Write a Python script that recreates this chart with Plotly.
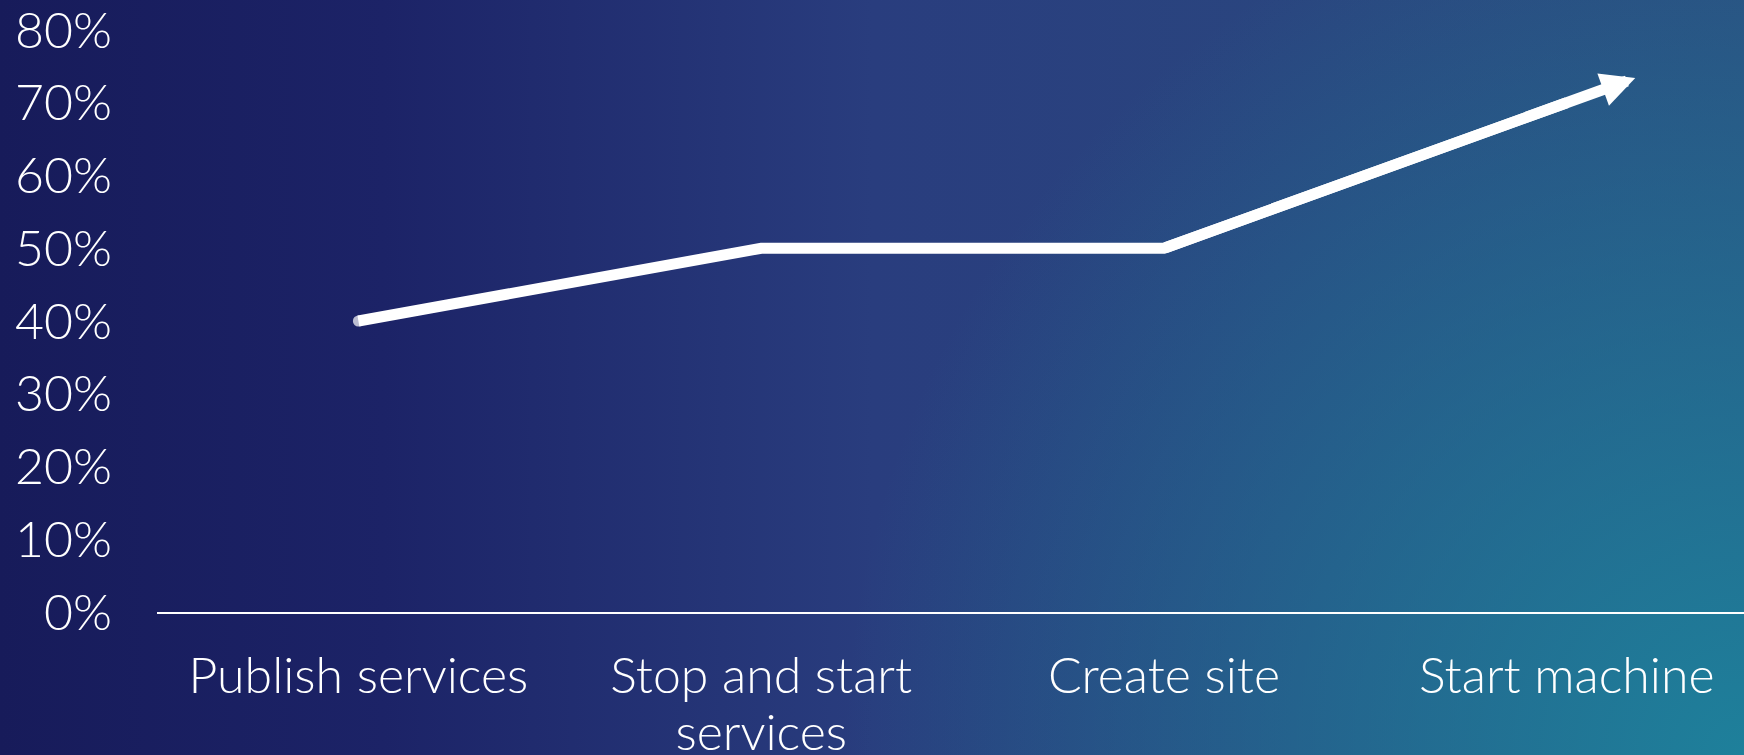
import base64
import plotly.graph_objects as go

# ---- data ----
categories = ["Publish services", "Stop and start<br>services", "Create site", "Start machine"]
values = [0.40, 0.50, 0.50, 0.70]
y_ticks = [0.0, 0.1, 0.2, 0.3, 0.4, 0.5, 0.6, 0.7, 0.8]
arrow_extend = 0.17  # how far (in category units) the arrow head goes beyond the last point

W, H = 1744, 755
ML, MR, MT, MB = 157, 0, 30, 143

FONT = "Lato"
FS = 50
LINE_SPACING_EM = 1.14

# ---- gradient background as an SVG image ----
svg = f"""<svg xmlns='http://www.w3.org/2000/svg' width='{W}' height='{H}' viewBox='0 0 {W} {H}' preserveAspectRatio='none'>
<defs>
<linearGradient id='g' x1='0' y1='0' x2='1' y2='0'>
<stop offset='0' stop-color='#171b5a'/>
<stop offset='0.22' stop-color='#1c2367'/>
<stop offset='0.5' stop-color='#293d7e'/>
<stop offset='1' stop-color='#2b4e80'/>
</linearGradient>
<radialGradient id='r' gradientUnits='userSpaceOnUse' cx='{W}' cy='{H}' r='900'>
<stop offset='0' stop-color='#1e809b' stop-opacity='1'/>
<stop offset='1' stop-color='#1e809b' stop-opacity='0'/>
</radialGradient>
</defs>
<rect width='{W}' height='{H}' fill='url(#g)'/>
<rect width='{W}' height='{H}' fill='url(#r)'/>
</svg>"""
bg_src = "data:image/svg+xml;base64," + base64.b64encode(svg.encode()).decode()

pw = W - ML - MR
ph = H - MT - MB

xs = list(range(len(categories)))

fig = go.Figure()
fig.add_trace(go.Scatter(
    x=xs, y=values, mode="lines+markers",
    line=dict(color="white", width=11),
    marker=dict(size=[11] + [0] * (len(values) - 1), color="white", line=dict(width=0)),
    cliponaxis=False, hoverinfo="skip", showlegend=False,
))

# arrow head continuing the last segment
dx = xs[-1] - xs[-2]
dy = values[-1] - values[-2]
fig.add_annotation(
    x=xs[-1] + arrow_extend * dx, y=values[-1] + arrow_extend * dy,
    ax=xs[-2], ay=values[-2], xref="x", yref="y", axref="x", ayref="y",
    text="", showarrow=True, arrowhead=2, arrowwidth=11, arrowsize=0.62,
    arrowcolor="white",
)

fig.update_layout(
    width=W, height=H,
    margin=dict(l=ML, r=MR, t=MT, b=MB, pad=0, autoexpand=False),
    paper_bgcolor="#1c2367", plot_bgcolor="rgba(0,0,0,0)",
    font=dict(family=FONT, color="white", size=FS, weight=300),
    images=[dict(
        source=bg_src, xref="paper", yref="paper",
        x=-ML / pw, y=1 + MT / ph, sizex=W / pw, sizey=H / ph,
        xanchor="left", yanchor="top", sizing="stretch", layer="below",
    )],
    xaxis=dict(
        range=[-0.5, 3.44], tickmode="array", tickvals=xs, ticktext=categories,
        showgrid=False, zeroline=False, showline=True, linecolor="white", linewidth=2,
        ticks="", ticklabelstandoff=19, fixedrange=True, automargin=False,
        ticklabeloverflow="allow",
        tickfont=dict(family=FONT, size=FS, color="white", weight=300),
    ),
    yaxis=dict(
        range=[0, 0.8], tickmode="array", tickvals=y_ticks, tickformat=".0%",
        showgrid=False, zeroline=False, showline=False, ticks="",
        ticklabelstandoff=44, fixedrange=True, automargin=False,
        ticklabeloverflow="allow",
        tickfont=dict(family=FONT, size=FS, color="white", weight=300),
    ),
)

post_js = """
document.body.style.margin='0';
document.body.style.overflow='hidden';
document.body.style.background='#1c2367';
var gd = document.getElementById('{plot_id}');
function tightenLines() {
  gd.querySelectorAll('.xtick text').forEach(function (txt) {
    txt.querySelectorAll('tspan.line').forEach(function (t, i) {
      t.setAttribute('dy', (i * %s) + 'em');
    });
  });
}
tightenLines();
if (gd.on) { gd.on('plotly_afterplot', tightenLines); }
""" % LINE_SPACING_EM

fig.write_html(
    "out.html",
    config={"displayModeBar": False},
    post_script=post_js,
)
